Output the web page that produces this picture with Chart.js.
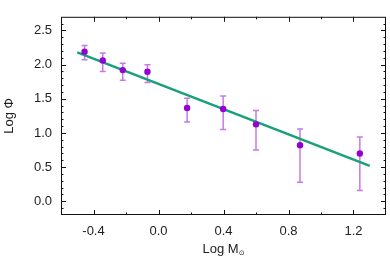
<!DOCTYPE html>
<html>
<head>
<meta charset="utf-8">
<script src="https://cdn.jsdelivr.net/npm/chart.js"></script>
<style>
  html, body { margin: 0; padding: 0; background: #ffffff; }
  canvas { display: block; }
</style>
</head>
<body>
<canvas id="chart" width="390" height="260"></canvas>
<script>
  // measured points (Log M, Log Phi) with their error range
  const logMass = [-0.455, -0.343, -0.22, -0.068, 0.176, 0.398, 0.6, 0.871, 1.239];
  const logPhi = [2.19, 2.06, 1.92, 1.895, 1.366, 1.35, 1.126, 0.822, 0.70];
  const phiHigh = [2.28, 2.17, 2.02, 2.0, 1.51, 1.54, 1.33, 1.06, 0.94];
  const phiLow = [2.07, 1.90, 1.77, 1.74, 1.16, 1.05, 0.75, 0.28, 0.16];

  // straight-line fit, end points
  const fitMass = [-0.5, 1.3];
  const fitPhi = [2.18, 0.52];

  const xTicks = [-0.4, 0.0, 0.4, 0.8, 1.2];
  const xMinorTicks = [-0.2, 0.2, 0.6, 1.0];
  const yTicks = [0.0, 0.5, 1.0, 1.5, 2.0, 2.5];
  const yMinorTicks = [-0.1, 0.1, 0.2, 0.3, 0.4, 0.6, 0.7, 0.8, 0.9, 1.1, 1.2, 1.3, 1.4,
    1.6, 1.7, 1.8, 1.9, 2.1, 2.2, 2.3, 2.4, 2.6];

  const colors = {
    fit: '#17a07a',
    point: '#9400d3',
    error: '#c67ae8',
    axis: '#111111',
    text: '#222222'
  };
  const fontFamily = '"Liberation Sans", Arial, Helvetica, sans-serif';

  const errorBars = {
    id: 'errorBars',
    beforeDatasetsDraw(chart) {
      const { ctx, scales: { x, y } } = chart;
      ctx.save();
      ctx.strokeStyle = colors.error;
      ctx.lineWidth = 1.5;
      logMass.forEach((m, i) => {
        const px = x.getPixelForValue(m);
        const top = y.getPixelForValue(phiHigh[i]);
        const bottom = y.getPixelForValue(phiLow[i]);
        ctx.beginPath();
        ctx.moveTo(px, top);
        ctx.lineTo(px, bottom);
        ctx.moveTo(px - 3, top);
        ctx.lineTo(px + 3, top);
        ctx.moveTo(px - 3, bottom);
        ctx.lineTo(px + 3, bottom);
        ctx.stroke();
      });
      ctx.restore();
    }
  };

  const frame = {
    id: 'frame',
    afterDraw(chart) {
      const { ctx, chartArea: area, scales: { x, y } } = chart;
      ctx.save();
      ctx.strokeStyle = colors.axis;
      ctx.lineWidth = 1;
      ctx.strokeRect(area.left + 0.5, area.top + 0.5, area.right - area.left - 1, area.bottom - area.top - 1);

      ctx.beginPath();
      const xMark = (value, len) => {
        const px = Math.round(x.getPixelForValue(value)) + 0.5;
        ctx.moveTo(px, area.bottom);
        ctx.lineTo(px, area.bottom - len);
        ctx.moveTo(px, area.top);
        ctx.lineTo(px, area.top + len);
      };
      const yMark = (value, len) => {
        const py = Math.round(y.getPixelForValue(value)) + 0.5;
        ctx.moveTo(area.left, py);
        ctx.lineTo(area.left + len, py);
        ctx.moveTo(area.right, py);
        ctx.lineTo(area.right - len, py);
      };
      xTicks.forEach((v) => xMark(v, 5));
      xMinorTicks.forEach((v) => xMark(v, 2.5));
      yTicks.forEach((v) => yMark(v, 5));
      yMinorTicks.forEach((v) => yMark(v, 2.5));
      ctx.stroke();

      // x title with a subscript sun symbol
      const main = 'Log M';
      const sub = '\u2299';
      ctx.fillStyle = colors.text;
      ctx.textBaseline = 'alphabetic';
      ctx.font = '13px ' + fontFamily;
      const mainWidth = ctx.measureText(main).width;
      ctx.font = '7px "DejaVu Sans", ' + fontFamily;
      const subWidth = ctx.measureText(sub).width;
      const startX = (area.left + area.right) / 2 - (mainWidth + subWidth) / 2;
      ctx.font = '13px ' + fontFamily;
      ctx.fillText(main, startX, 253);
      ctx.font = '7px "DejaVu Sans", ' + fontFamily;
      ctx.fillText(sub, startX + mainWidth, 255);
      ctx.restore();
    }
  };

  new Chart(document.getElementById('chart'), {
    type: 'scatter',
    data: {
      datasets: [
        {
          type: 'line',
          label: 'Fit',
          data: fitMass.map((m, i) => ({ x: m, y: fitPhi[i] })),
          borderColor: colors.fit,
          borderWidth: 2.5,
          pointRadius: 0,
          fill: false,
          order: 1
        },
        {
          label: 'Data',
          data: logMass.map((m, i) => ({ x: m, y: logPhi[i] })),
          backgroundColor: colors.point,
          borderWidth: 0,
          pointRadius: 3.2,
          order: 0
        }
      ]
    },
    options: {
      responsive: false,
      animation: false,
      layout: { padding: { top: 1, right: 1, left: 0, bottom: 0 } },
      plugins: {
        legend: { display: false },
        tooltip: { enabled: false }
      },
      scales: {
        x: {
          type: 'linear',
          min: -0.6,
          max: 1.4,
          afterBuildTicks: (scale) => { scale.ticks = xTicks.map((value) => ({ value })); },
          afterFit: (scale) => { scale.height = 45; },
          grid: { display: false, drawTicks: false },
          border: { display: false },
          ticks: {
            padding: 9,
            color: colors.text,
            font: { family: fontFamily, size: 13 },
            callback: (value) => value.toFixed(1)
          }
        },
        y: {
          type: 'linear',
          min: -0.2,
          max: 2.7,
          afterBuildTicks: (scale) => { scale.ticks = yTicks.map((value) => ({ value })); },
          afterFit: (scale) => { scale.width = 61; },
          grid: { display: false, drawTicks: false },
          border: { display: false },
          title: {
            display: true,
            text: 'Log \u03A6',
            color: colors.text,
            font: { family: fontFamily, size: 13 },
            padding: { top: 2, bottom: 0 }
          },
          ticks: {
            padding: 9,
            color: colors.text,
            font: { family: fontFamily, size: 13 },
            callback: (value) => value.toFixed(1)
          }
        }
      }
    },
    plugins: [errorBars, frame]
  });
</script>
</body>
</html>
